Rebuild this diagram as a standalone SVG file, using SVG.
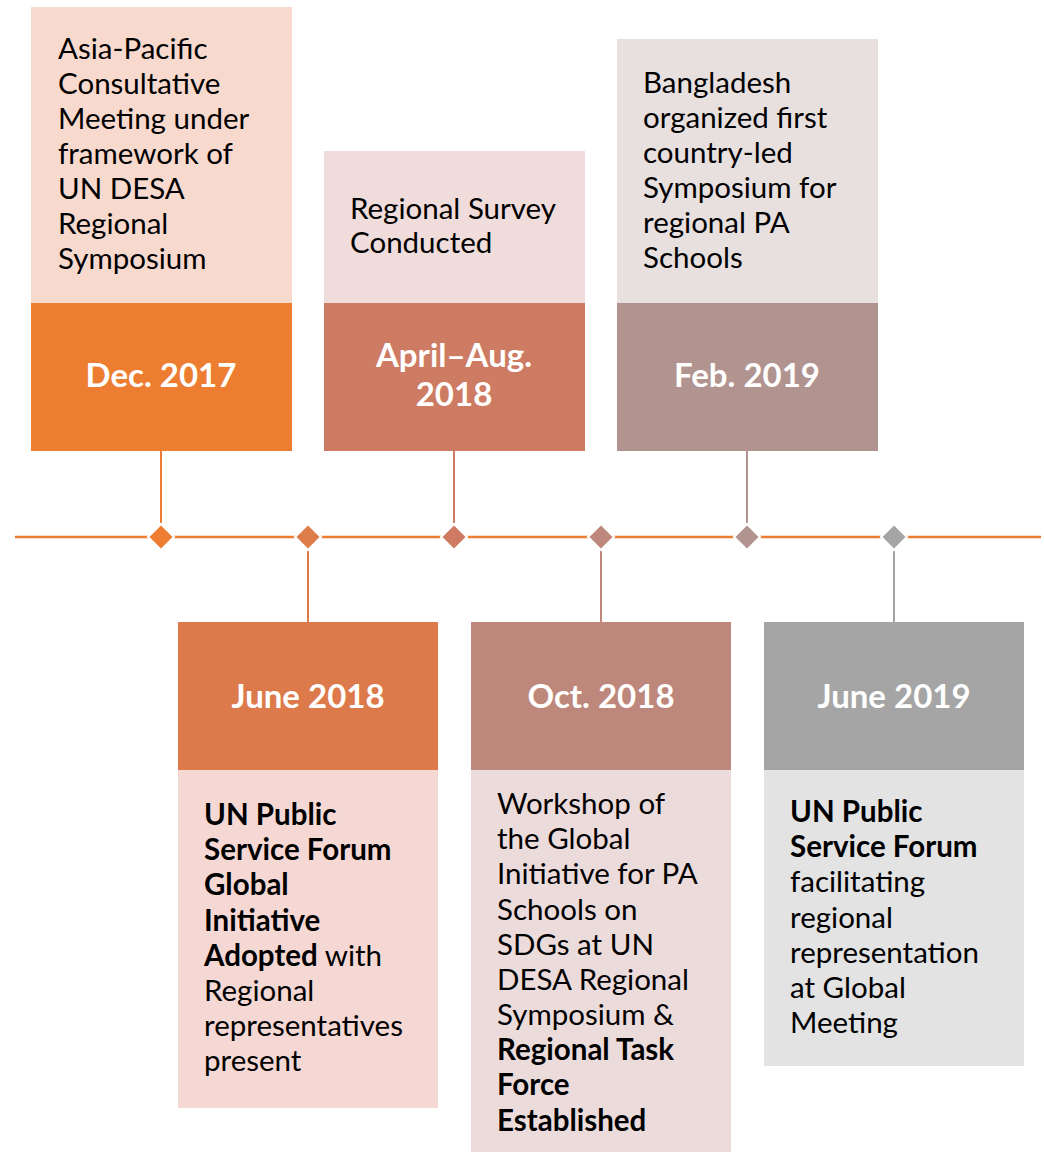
<svg xmlns="http://www.w3.org/2000/svg" width="1044" height="1152" viewBox="0 0 1044 1152">
<style>
.t{font-family:Lato,"Liberation Sans",sans-serif;font-size:29.5px;fill:#000}
.b{font-weight:bold}
.d{font-family:Lato,"Liberation Sans",sans-serif;font-size:33px;font-weight:bold;fill:#fff;text-anchor:middle}
.c{stroke-width:2;fill:none}
.w{fill:#fff}
</style>
<defs>
<polygon id="wd" points="0,-14.5 14.5,0 0,14.5 -14.5,0"/>
<polygon id="cd" points="0,-11.5 11.5,0 0,11.5 -11.5,0"/>
</defs>
<rect width="1044" height="1152" fill="#fff"/>
<g id="connectors">
<line x1="15" y1="537" x2="1041" y2="537" stroke="#ED7D31" stroke-width="2.5"/>
<line class="c" x1="161" y1="451" x2="161" y2="523" stroke="#ED7D31"/>
<line class="c" x1="454" y1="451" x2="454" y2="523" stroke="#CD7B62"/>
<line class="c" x1="747" y1="451" x2="747" y2="523" stroke="#B19390"/>
<line class="c" x1="308" y1="551" x2="308" y2="622" stroke="#DD7A4B"/>
<line class="c" x1="601" y1="551" x2="601" y2="622" stroke="#BE877B"/>
<line class="c" x1="894" y1="551" x2="894" y2="622" stroke="#A5A5A5"/>
<use href="#wd" x="161" y="537" class="w"/><use href="#cd" x="161" y="537" fill="#ED7D31"/>
<use href="#wd" x="308" y="537" class="w"/><use href="#cd" x="308" y="537" fill="#DE7C4A"/>
<use href="#wd" x="454" y="537" class="w"/><use href="#cd" x="454" y="537" fill="#CF7B63"/>
<use href="#wd" x="601" y="537" class="w"/><use href="#cd" x="601" y="537" fill="#BF887C"/>
<use href="#wd" x="747" y="537" class="w"/><use href="#cd" x="747" y="537" fill="#B19390"/>
<use href="#wd" x="894" y="537" class="w"/><use href="#cd" x="894" y="537" fill="#A5A5A5"/>
</g>
<g id="dec2017">
<rect x="31" y="7" width="261" height="296" fill="#F8D9CE"/>
<rect x="31" y="303" width="261" height="148" fill="#ED7D31"/>
<text class="t" x="58" y="59">Asia-Pacific</text>
<text class="t" x="58" y="94">Consultative</text>
<text class="t" x="58" y="129">Meeting under</text>
<text class="t" x="58" y="164">framework of</text>
<text class="t" x="58" y="199">UN DESA</text>
<text class="t" x="58" y="234">Regional</text>
<text class="t" x="58" y="269">Symposium</text>
<text class="d" x="161" y="387">Dec. 2017</text>
</g>
<g id="apr2018">
<rect x="324" y="151" width="261" height="152" fill="#F0DCDA"/>
<rect x="324" y="303" width="261" height="148" fill="#CD7B62"/>
<text class="t" x="350" y="219">Regional Survey</text>
<text class="t" x="350" y="253">Conducted</text>
<text class="d" x="454" y="367">April–Aug.</text>
<text class="d" x="454" y="406">2018</text>
</g>
<g id="feb2019">
<rect x="617" y="39" width="261" height="264" fill="#E8DFDF"/>
<rect x="617" y="303" width="261" height="148" fill="#B19390"/>
<text class="t" x="643" y="93">Bangladesh</text>
<text class="t" x="643" y="128">organized first</text>
<text class="t" x="643" y="163">country-led</text>
<text class="t" x="643" y="198">Symposium for</text>
<text class="t" x="643" y="233">regional PA</text>
<text class="t" x="643" y="268">Schools</text>
<text class="d" x="747" y="387">Feb. 2019</text>
</g>
<g id="jun2018">
<rect x="178" y="622" width="260" height="148" fill="#DD7A4B"/>
<rect x="178" y="770" width="260" height="338" fill="#F5D8D4"/>
<text class="d" x="308" y="708">June 2018</text>
<text class="t b" x="204" y="825">UN Public</text>
<text class="t b" x="204" y="860">Service Forum</text>
<text class="t b" x="204" y="895">Global</text>
<text class="t b" x="204" y="931">Initiative</text>
<text class="t" x="204" y="966"><tspan class="b">Adopted</tspan> with</text>
<text class="t" x="204" y="1001">Regional</text>
<text class="t" x="204" y="1036">representatives</text>
<text class="t" x="204" y="1071">present</text>
</g>
<g id="oct2018">
<rect x="471" y="622" width="260" height="148" fill="#BE877B"/>
<rect x="471" y="770" width="260" height="382" fill="#ECDBDB"/>
<text class="d" x="601" y="708">Oct. 2018</text>
<text class="t" x="497" y="814">Workshop of</text>
<text class="t" x="497" y="849">the Global</text>
<text class="t" x="497" y="884">Initiative for PA</text>
<text class="t" x="497" y="920">Schools on</text>
<text class="t" x="497" y="955">SDGs at UN</text>
<text class="t" x="497" y="990">DESA Regional</text>
<text class="t" x="497" y="1025">Symposium &amp;</text>
<text class="t b" x="497" y="1060">Regional Task</text>
<text class="t b" x="497" y="1095">Force</text>
<text class="t b" x="497" y="1131">Established</text>
</g>
<g id="jun2019">
<rect x="764" y="622" width="260" height="148" fill="#A5A5A5"/>
<rect x="764" y="770" width="260" height="296" fill="#E3E3E3"/>
<text class="d" x="894" y="708">June 2019</text>
<text class="t b" x="790" y="822">UN Public</text>
<text class="t b" x="790" y="857">Service Forum</text>
<text class="t" x="790" y="892">facilitating</text>
<text class="t" x="790" y="928">regional</text>
<text class="t" x="790" y="963">representation</text>
<text class="t" x="790" y="998">at Global</text>
<text class="t" x="790" y="1033">Meeting</text>
</g>
</svg>
